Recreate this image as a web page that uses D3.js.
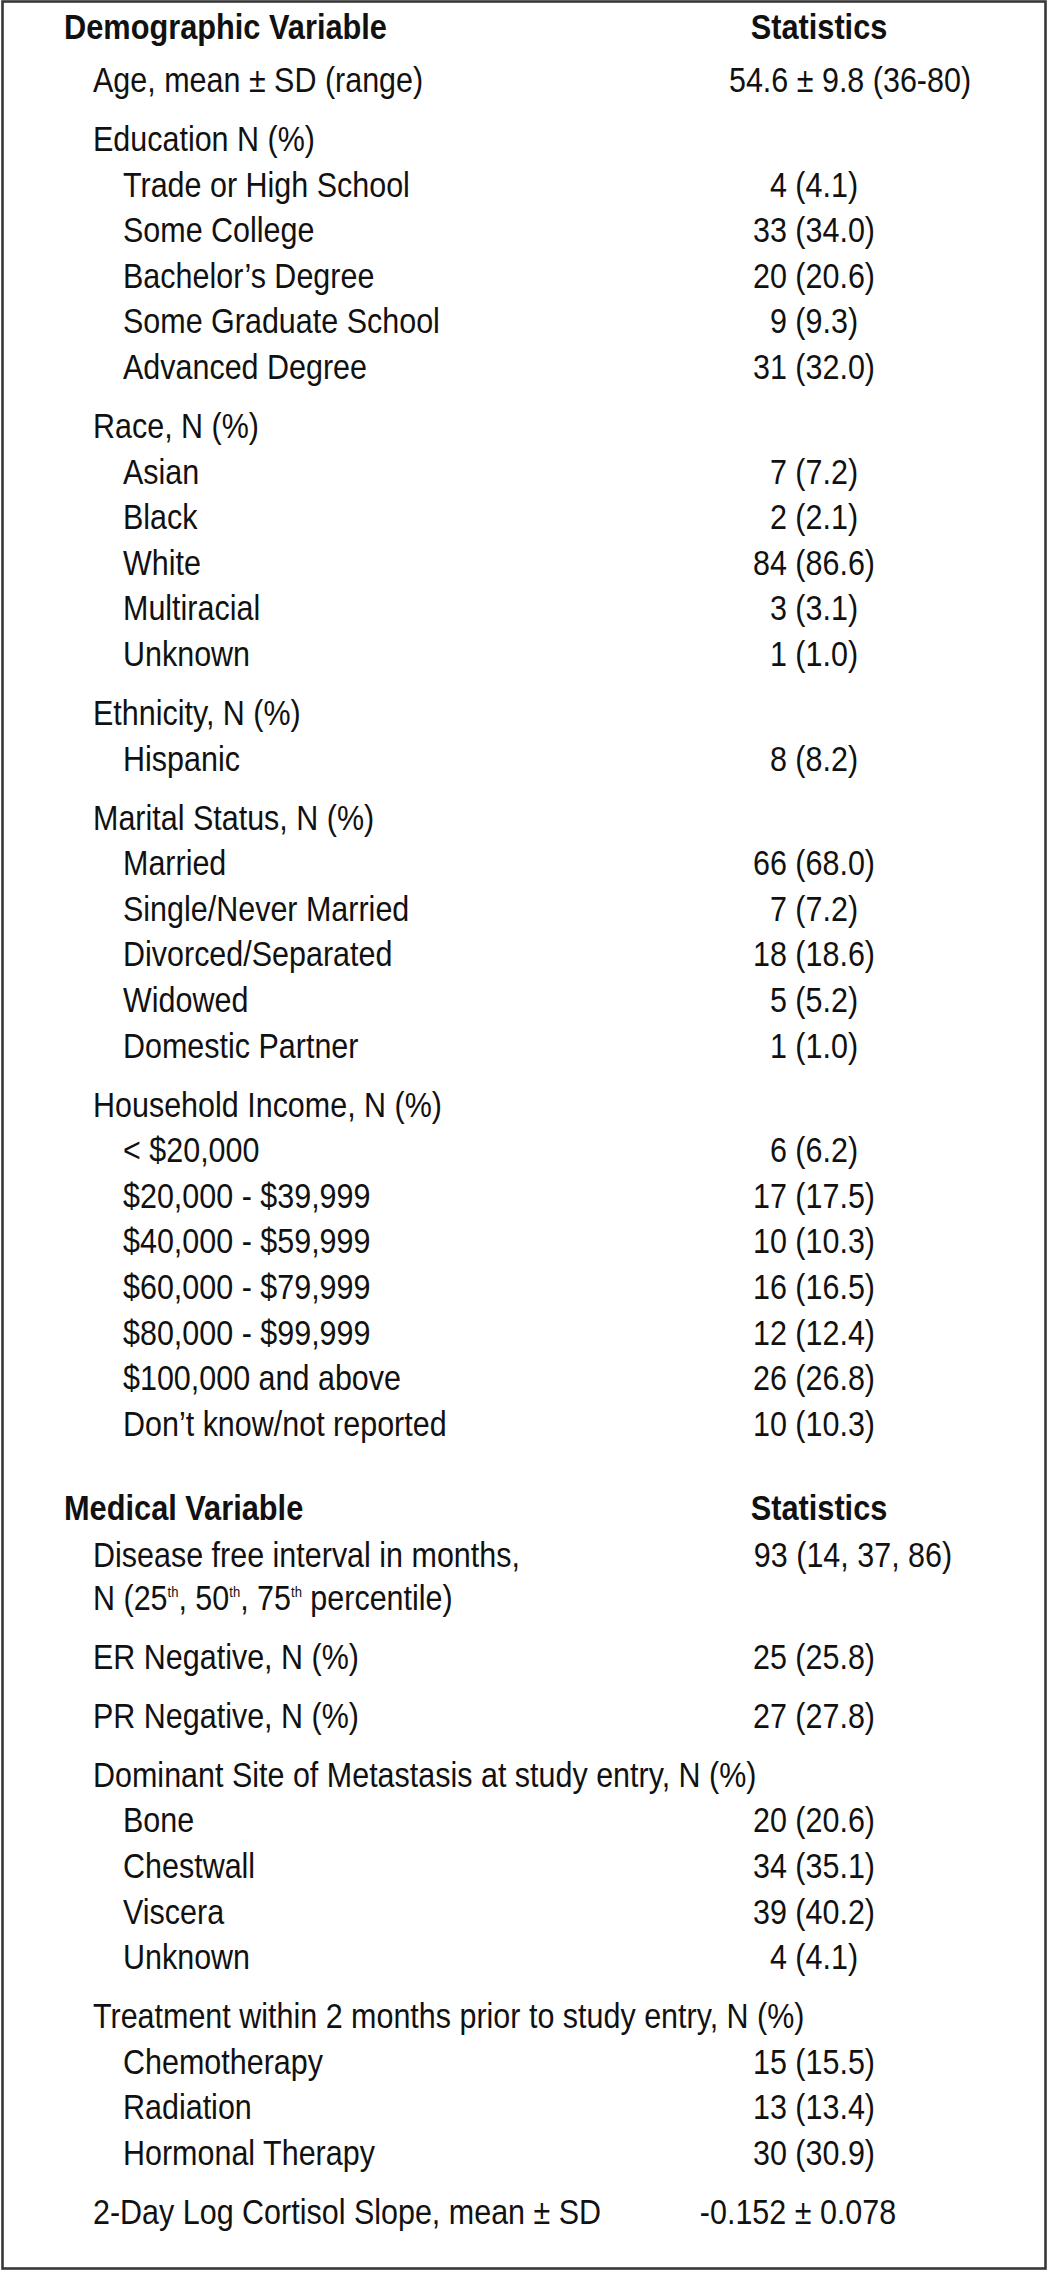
<!DOCTYPE html>
<html>
<head>
<meta charset="utf-8">
<script src="https://cdn.jsdelivr.net/npm/d3@7"></script>
<style>
body { margin: 0; background: #fff; }
svg text { font-family: "Liberation Sans Narrow", "Arial Narrow", "Liberation Sans", Arial, sans-serif; fill: #111; }
</style>
</head>
<body>
<div id="chart"></div>
<script>
// ---- demographic variables
var ageMean = 54.6, ageSD = 9.8, ageRange = [36, 80]

var educationLevels = ['Trade or High School', 'Some College', 'Bachelor’s Degree', 'Some Graduate School', 'Advanced Degree']
var educationN = [4, 33, 20, 9, 31]
var educationPct = [4.1, 34.0, 20.6, 9.3, 32.0]

var raceLevels = ['Asian', 'Black', 'White', 'Multiracial', 'Unknown']
var raceN = [7, 2, 84, 3, 1]
var racePct = [7.2, 2.1, 86.6, 3.1, 1.0]

var ethnicityLevels = ['Hispanic']
var ethnicityN = [8]
var ethnicityPct = [8.2]

var maritalLevels = ['Married', 'Single/Never Married', 'Divorced/Separated', 'Widowed', 'Domestic Partner']
var maritalN = [66, 7, 18, 5, 1]
var maritalPct = [68.0, 7.2, 18.6, 5.2, 1.0]

var incomeLevels = ['< $20,000', '$20,000 - $39,999', '$40,000 - $59,999', '$60,000 - $79,999',
  '$80,000 - $99,999', '$100,000 and above', 'Don’t know/not reported']
var incomeN = [6, 17, 10, 16, 12, 26, 10]
var incomePct = [6.2, 17.5, 10.3, 16.5, 12.4, 26.8, 10.3]

// ---- medical variables
var dfiN = 93, dfiPercentiles = [25, 50, 75], dfiValues = [14, 37, 86]
var erNegN = 25, erNegPct = 25.8
var prNegN = 27, prNegPct = 27.8

var metSites = ['Bone', 'Chestwall', 'Viscera', 'Unknown']
var metN = [20, 34, 39, 4]
var metPct = [20.6, 35.1, 40.2, 4.1]

var treatments = ['Chemotherapy', 'Radiation', 'Hormonal Therapy']
var treatN = [15, 13, 30]
var treatPct = [15.5, 13.4, 30.9]

var cortisolMean = -0.152, cortisolSD = 0.078


// ---- layout
var W = 1051, H = 2271
var fontSize = 35, supSize = 15
var firstGap = [53, 47]      // header -> first row, per section
var gaps = {header: 84, group: 59, item: 45.6, cont: 43}

var indent = d3.scaleOrdinal().domain(['header', 'group', 'item', 'cont']).range([64, 93, 123, 93])
var valueCenter = 814, statsCenter = 819

function np(n, p){ return n + ' (' + p.toFixed(1) + ')' }

var rows = []
var section = -1
function header(label){ section++; rows.push({kind: 'header', label: label, value: 'Statistics', section: section}) }
function single(label, value, cx){ rows.push({kind: 'group', label: label, value: value, cx: cx, section: section}) }
function group(label, levels, ns, pcts){
  rows.push({kind: 'group', label: label, value: '', section: section})
  levels.forEach(function(l, i){
    rows.push({kind: 'item', label: l, value: np(ns[i], pcts[i]), section: section})
  })
}

header('Demographic Variable')
single('Age, mean ± SD (range)', ageMean + ' ± ' + ageSD + ' (' + ageRange[0] + '-' + ageRange[1] + ')', 850)
group('Education N (%)', educationLevels, educationN, educationPct)
group('Race, N (%)', raceLevels, raceN, racePct)
group('Ethnicity, N (%)', ethnicityLevels, ethnicityN, ethnicityPct)
group('Marital Status, N (%)', maritalLevels, maritalN, maritalPct)
group('Household Income, N (%)', incomeLevels, incomeN, incomePct)

header('Medical Variable')
single('Disease free interval in months,', dfiN + ' (' + dfiValues.join(', ') + ')', 853)
var contParts = [{t: 'N ('}]
dfiPercentiles.forEach(function(p, i){
  contParts.push({t: (i ? ', ' : '') + p})
  contParts.push({t: 'th', sup: true})
})
contParts.push({t: ' percentile)'})
rows.push({kind: 'cont', parts: contParts, value: '', section: section})
single('ER Negative, N (%)', np(erNegN, erNegPct))
single('PR Negative, N (%)', np(prNegN, prNegPct))
group('Dominant Site of Metastasis at study entry, N (%)', metSites, metN, metPct)
group('Treatment within 2 months prior to study entry, N (%)', treatments, treatN, treatPct)
single('2-Day Log Cortisol Slope, mean ± SD', cortisolMean.toFixed(3) + ' ± ' + cortisolSD.toFixed(3), 798)

// baselines
var y = 39
rows.forEach(function(d, i){
  if (i > 0){
    var prev = rows[i-1]
    if (d.kind == 'header') y += gaps.header
    else if (prev.kind == 'header') y += firstGap[d.section]
    else y += gaps[d.kind]
  }
  d.y = y
})


var svg = d3.select('#chart').append('svg').attr('width', W).attr('height', H)

svg.append('rect')
  .attr('x', 2.5).attr('y', 1.5)
  .attr('width', W - 8).attr('height', H - 4)
  .attr('fill', '#fff').attr('stroke', '#383838').attr('stroke-width', 2.6)

// horizontal squeeze to match the condensed face of the original
function measure(str, weight){
  var t = svg.append('text').attr('font-size', fontSize).attr('font-weight', weight).text(str)
  var w = t.node().getComputedTextLength()
  t.remove()
  return w
}
var sxReg = 287 / measure('Trade or High School', 'normal')
var sxBold = 323 / measure('Demographic Variable', 'bold')

var g = svg.append('g')

var rowSel = g.selectAll('g.row').data(rows).join('g').attr('class', 'row')

rowSel.append('text')
  .attr('class', 'label')
  .attr('font-size', fontSize)
  .attr('font-weight', function(d){ return d.kind == 'header' ? 'bold' : 'normal' })
  .attr('transform', function(d){
    return 'translate(' + indent(d.kind) + ',' + d.y + ') scale(' + (d.kind == 'header' ? sxBold : sxReg) + ',1)'
  })
  .each(function(d){
    var sel = d3.select(this)
    if (!d.parts){ sel.text(d.label); return }
    var shifted = false
    d.parts.forEach(function(p){
      var ts = sel.append('tspan').text(p.t)
      if (p.sup){ ts.attr('font-size', supSize).attr('dy', -13); shifted = true }
      else if (shifted){ ts.attr('dy', 13); shifted = false }
    })
  })

rowSel.filter(function(d){ return d.value })
  .append('text')
  .attr('class', 'value')
  .attr('font-size', fontSize)
  .attr('text-anchor', 'middle')
  .attr('font-weight', function(d){ return d.kind == 'header' ? 'bold' : 'normal' })
  .attr('transform', function(d){
    var cx = d.kind == 'header' ? statsCenter : (d.cx || valueCenter)
    return 'translate(' + cx + ',' + d.y + ') scale(' + (d.kind == 'header' ? sxBold : sxReg) + ',1)'
  })
  .text(function(d){ return d.value })
</script>
</body>
</html>
